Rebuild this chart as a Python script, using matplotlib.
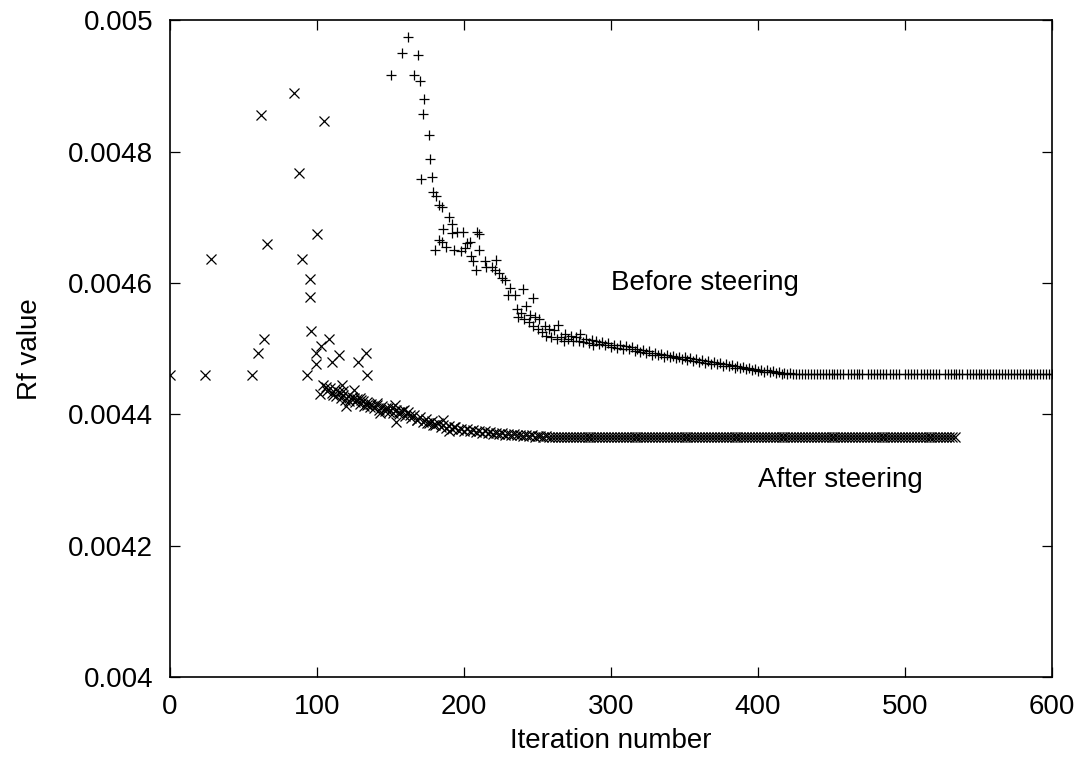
import numpy as np
import matplotlib
matplotlib.use("Agg")
import matplotlib.pyplot as plt

# Rf values are stored in units of 1e-6
before_iter = [
    150, 158, 162, 166, 169, 170, 171, 172, 173, 176,
    177, 178, 179, 180, 181, 183, 183, 185, 185, 186,
    188, 190, 192, 192, 193, 195, 198, 199, 201, 202,
    204, 205, 206, 208, 209, 210, 210, 214, 215, 219,
    221, 222, 224, 226, 228, 230, 231, 235, 240, 247,
    236, 237, 239, 241, 242, 244, 245, 247, 248, 250,
    251, 253, 255, 256, 258, 259, 261, 263, 264, 266,
    268, 269, 271, 273, 274, 276, 278, 279, 281, 283,
    285, 287, 288, 290, 292, 294, 296, 298, 300, 302,
    304, 306, 308, 310, 312, 314, 316, 318, 320, 322,
    324, 326, 328, 330, 332, 334, 336, 338, 340, 342,
    344, 346, 348, 350, 352, 354, 356, 358, 360, 362,
    364, 366, 368, 370, 372, 374, 376, 378, 380, 382,
    384, 386, 388, 390, 392, 394, 396, 398, 400, 402,
    404, 406, 408, 410, 412, 414, 416, 418, 420, 422,
    424, 426,
    428, 430, 432, 434, 436, 438, 440, 442, 444, 446, 448, 450, 452, 454, 456, 458,
    461, 463, 465, 467, 469, 471,
    475, 477, 479, 481, 483, 485, 487,
    490, 492, 494, 496,
    500, 502, 504, 506, 508,
    511, 513, 515, 517, 519, 521, 523,
    527, 529, 531, 533, 535, 537, 539,
    542, 544, 546, 548, 550, 552, 554, 556, 558, 560,
    562, 564, 566, 568, 570, 572, 574, 576, 578, 580,
    582, 584, 586, 588, 590, 592, 594, 596, 598, 600,
]
before_rf = [
    4917, 4950, 4974, 4917, 4947, 4907, 4758, 4857, 4881, 4825,
    4789, 4761, 4739, 4650, 4732, 4719, 4666, 4716, 4662, 4682,
    4655, 4700, 4690, 4676, 4650, 4677, 4649, 4678, 4653, 4661,
    4663, 4641, 4633, 4620, 4678, 4650, 4675, 4633, 4624, 4624,
    4620, 4635, 4615, 4607, 4605, 4582, 4592, 4582, 4591, 4577,
    4560, 4548, 4555, 4545, 4565, 4540, 4552, 4535, 4548, 4530,
    4545, 4525, 4535, 4520, 4530, 4518, 4528, 4515, 4536, 4518,
    4512, 4522, 4514, 4519, 4511, 4517, 4512, 4522, 4510, 4515,
    4509, 4513, 4506, 4512, 4507, 4510, 4505, 4508, 4503, 4506,
    4501, 4505, 4500, 4504, 4499, 4502, 4497, 4500, 4495, 4498,
    4493, 4496, 4491, 4494, 4490, 4492, 4488, 4491, 4487, 4489,
    4485, 4488, 4484, 4487, 4483, 4485, 4481, 4484, 4480, 4482,
    4478, 4481, 4477, 4479, 4476, 4478, 4474, 4477, 4473, 4475,
    4471, 4474, 4470, 4472, 4469, 4471, 4468, 4469, 4466, 4468,
    4465, 4467, 4464, 4466, 4463, 4465, 4462, 4463, 4462, 4463,
    4461, 4462,
    4461, 4461, 4461, 4461, 4461, 4461, 4461, 4461, 4461, 4461, 4461, 4461, 4461, 4461, 4461, 4461,
    4461, 4461, 4461, 4461, 4461, 4461,
    4461, 4461, 4461, 4461, 4461, 4461, 4461,
    4461, 4461, 4461, 4461,
    4461, 4461, 4461, 4461, 4461,
    4461, 4461, 4461, 4461, 4461, 4461, 4461,
    4461, 4461, 4461, 4461, 4461, 4461, 4461,
    4461, 4461, 4461, 4461, 4461, 4461, 4461, 4461, 4461, 4461,
    4461, 4461, 4461, 4461, 4461, 4461, 4461, 4461, 4461, 4461,
    4461, 4461, 4461, 4461, 4461, 4461, 4461, 4461, 4461, 4461,
]

after_iter = [
    0, 24, 28, 56, 60, 62, 64, 66, 84, 88,
    90, 93, 95, 95, 96, 99, 99, 100, 102, 103,
    104, 105, 108, 110, 111, 115, 117, 118, 120, 125,
    125, 128, 129, 130, 133, 134, 134, 141, 143, 147,
    153, 154, 156, 159, 163, 168, 175, 179, 186, 190,
    193,
    106, 107, 109, 110, 112, 113, 115, 116, 118, 119,
    121, 122, 124, 126, 127, 129, 131, 132, 134, 136,
    137, 139, 141, 142, 144, 146, 148, 149, 151, 152,
    154, 156, 158, 160, 162, 164, 166, 168, 170, 172,
    174, 176, 178, 180, 182, 184, 186, 188, 190, 192,
    194, 196, 198, 200, 202, 204, 206, 208, 210, 212,
    214, 216, 218, 220, 222, 224, 226, 228, 230, 232,
    234, 236, 238, 240, 242, 244, 246, 248, 250, 252,
    254, 256, 258, 260,
    262, 264, 266, 268, 270, 272, 274, 276, 278, 280,
    282, 284, 286, 288, 290, 292, 294, 296, 298, 300,
    302, 304, 306, 308, 310, 312, 314, 316, 318, 320,
    322, 324, 326, 328, 330, 332, 334, 336, 338, 340,
    342, 344, 346, 348, 350, 352, 354, 356, 358, 360,
    362, 364, 366, 368, 370, 372, 374, 376, 378, 380,
    382, 384, 386, 388, 390, 392, 394, 396, 398, 400,
    402, 404, 406, 408, 410, 412, 414, 416, 418, 420,
    422, 424, 426, 428, 430, 432, 434, 436, 438, 440,
    442, 444, 446, 448, 450, 452, 454, 456, 458, 460,
    462, 464, 466, 468, 470, 472, 474, 476, 478, 480,
    482, 484, 486, 488, 490, 492, 494, 496, 498, 500,
    502, 504, 506, 508, 510, 512, 514, 516, 518, 520,
    522, 524, 526, 528, 530, 532, 534,
]
after_rf = [
    4460, 4460, 4636, 4460, 4493, 4856, 4514, 4660, 4890, 4767,
    4636, 4460, 4606, 4579, 4527, 4494, 4476, 4674, 4431, 4504,
    4445, 4847, 4514, 4479, 4430, 4490, 4445, 4435, 4412, 4437,
    4425, 4479, 4425, 4422, 4494, 4460, 4414, 4417, 4402, 4409,
    4414, 4389, 4404, 4407, 4399, 4391, 4386, 4384, 4391, 4374,
    4381,
    4442, 4436, 4440, 4432, 4438, 4428, 4434, 4425, 4430, 4422,
    4428, 4420, 4426, 4418, 4424, 4416, 4421, 4413, 4418, 4411,
    4416, 4409, 4414, 4407, 4412, 4405, 4410, 4404, 4409, 4402,
    4407, 4400, 4405, 4398, 4403, 4395, 4399, 4392, 4396, 4389,
    4393, 4386, 4390, 4384, 4387, 4381, 4384, 4379, 4382, 4377,
    4380, 4376, 4378, 4375, 4377, 4374, 4376, 4373, 4375, 4372,
    4374, 4371, 4373, 4370, 4372, 4370, 4371, 4369, 4370, 4368,
    4370, 4368, 4369, 4367, 4368, 4367, 4368, 4366, 4367, 4367,
    4366, 4367, 4366, 4366,
    4366, 4366, 4366, 4366, 4366, 4366, 4366, 4366, 4366, 4366,
    4366, 4366, 4366, 4366, 4366, 4366, 4366, 4366, 4366, 4366,
    4366, 4366, 4366, 4366, 4366, 4366, 4366, 4366, 4366, 4366,
    4366, 4366, 4366, 4366, 4366, 4366, 4366, 4366, 4366, 4366,
    4366, 4366, 4366, 4366, 4366, 4366, 4366, 4366, 4366, 4366,
    4366, 4366, 4366, 4366, 4366, 4366, 4366, 4366, 4366, 4366,
    4366, 4366, 4366, 4366, 4366, 4366, 4366, 4366, 4366, 4366,
    4366, 4366, 4366, 4366, 4366, 4366, 4366, 4366, 4366, 4366,
    4366, 4366, 4366, 4366, 4366, 4366, 4366, 4366, 4366, 4366,
    4366, 4366, 4366, 4366, 4366, 4366, 4366, 4366, 4366, 4366,
    4366, 4366, 4366, 4366, 4366, 4366, 4366, 4366, 4366, 4366,
    4366, 4366, 4366, 4366, 4366, 4366, 4366, 4366, 4366, 4366,
    4366, 4366, 4366, 4366, 4366, 4366, 4366, 4366, 4366, 4366,
    4366, 4366, 4366, 4366, 4366, 4366, 4366,
]

x_ticks = [0, 100, 200, 300, 400, 500, 600]
y_ticks = [0.004, 0.0042, 0.0044, 0.0046, 0.0048, 0.005]
y_tick_labels = ["0.004", "0.0042", "0.0044", "0.0046", "0.0048", "0.005"]

plt.rcParams["font.family"] = ["Liberation Sans", "DejaVu Sans"]
plt.rcParams["font.size"] = 20

fig = plt.figure(figsize=(10.83, 7.64), dpi=100)
ax = fig.add_axes([0.157, 0.114, 0.8144, 0.8593])

ax.plot(before_iter, np.array(before_rf) * 1e-6, linestyle="none", marker="+",
        markersize=7, markeredgewidth=0.9, color="black")
ax.plot(after_iter, np.array(after_rf) * 1e-6, linestyle="none", marker="x",
        markersize=7, markeredgewidth=0.9, color="black")

ax.text(300, 0.0046, "Before steering", ha="left", va="center")
ax.text(400, 0.0043, "After steering", ha="left", va="center")

ax.set_xlim(0, 600)
ax.set_ylim(0.004, 0.005)
ax.set_xticks(x_ticks)
ax.set_yticks(y_ticks)
ax.set_yticklabels(y_tick_labels)
ax.tick_params(direction="in", length=7, width=0.9, top=True, right=True, pad=12)
for s in ax.spines.values():
    s.set_linewidth(1.2)

ax.set_xlabel("Iteration number", labelpad=6)
ax.set_ylabel("Rf value", labelpad=18)

fig.savefig("out.png", dpi=100)
